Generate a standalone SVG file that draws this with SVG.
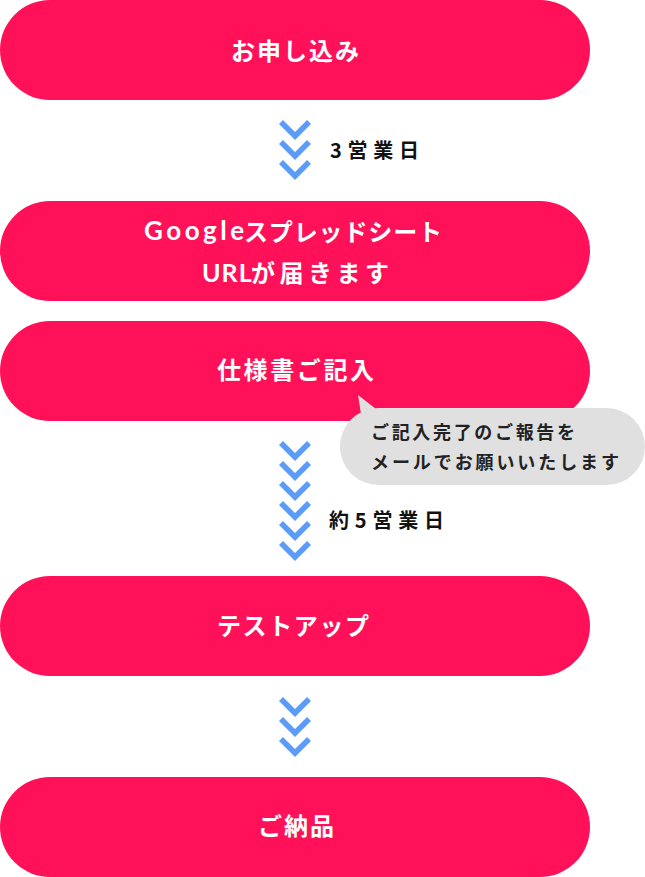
<svg xmlns="http://www.w3.org/2000/svg" xmlns:xlink="http://www.w3.org/1999/xlink" width="645" height="877" viewBox="0 0 645 877">
  <style>
    .pill { fill: #FE1158; }
    .ptxt { font-family: "Noto Sans CJK JP", "Noto Sans", sans-serif; font-weight: 700; font-size: 24px; fill: #FFFFFF; }
    .plat { font-family: Lato, "Open Sans", sans-serif; font-weight: 700; font-size: 26px; fill: #FFFFFF; }
    .lbl { font-family: "Noto Sans CJK JP", "Noto Sans", sans-serif; font-weight: 700; font-size: 20px; fill: #111111; }
    .btxt { font-family: "Noto Sans CJK JP", "Noto Sans", sans-serif; font-weight: 700; font-size: 18px; fill: #222222; }
    .chev { fill: #5B9CF8; }
    .bubble { fill: #E0E0E0; }
  </style>
  <defs>
    <path id="chev" class="chev" d="M-16,4 L-12,0 L0,12 L12,0 L16,4 L0,20 Z"/>
  </defs>
  <rect width="645" height="877" fill="#FFFFFF"/>

  <g id="node-apply">
    <rect class="pill" x="0" y="0" width="590" height="100" rx="50" ry="50"/>
    <text class="ptxt" x="231" y="60" textLength="128" lengthAdjust="spacing">お申し込み</text>
  </g>

  <g id="node-sheet">
    <rect class="pill" x="0" y="201" width="590" height="100" rx="50" ry="50"/>
    <text class="plat" x="144" y="240" letter-spacing="3.5">Google</text>
    <text class="ptxt" x="244" y="241" textLength="198" lengthAdjust="spacing">スプレッドシート</text>
    <text class="plat" x="202" y="282" style="font-size:25px" letter-spacing="1">URL</text>
    <text class="ptxt" x="251" y="282" textLength="138" lengthAdjust="spacing">が届きます</text>
  </g>

  <g id="node-spec">
    <rect class="pill" x="0" y="321" width="590" height="100" rx="50" ry="50"/>
    <text class="ptxt" x="217" y="379" textLength="157" lengthAdjust="spacing">仕様書ご記入</text>
  </g>

  <g id="node-bubble">
    <path class="bubble" d="M358,395 L376,409 L362,420 Z"/>
    <rect class="bubble" x="340" y="408" width="305" height="77" rx="38.5" ry="38.5"/>
    <text class="btxt" x="371" y="439" textLength="204" lengthAdjust="spacing">ご記入完了のご報告を</text>
    <text class="btxt" x="371" y="469" textLength="248" lengthAdjust="spacing">メールでお願いいたします</text>
  </g>

  <g id="node-test">
    <rect class="pill" x="0" y="576" width="590" height="100" rx="50" ry="50"/>
    <text class="ptxt" x="217" y="635" textLength="152" lengthAdjust="spacing">テストアップ</text>
  </g>

  <g id="node-deliver">
    <rect class="pill" x="0" y="777" width="590" height="100" rx="50" ry="50"/>
    <text class="ptxt" x="258" y="835" textLength="76" lengthAdjust="spacing">ご納品</text>
  </g>

  <g id="connectors">
    <use xlink:href="#chev" href="#chev" x="295" y="120"/>
    <use xlink:href="#chev" href="#chev" x="295" y="140"/>
    <use xlink:href="#chev" href="#chev" x="295" y="160"/>
    <text class="lbl" x="330" y="158" textLength="89" lengthAdjust="spacing">3営業日</text>

    <use xlink:href="#chev" href="#chev" x="295" y="441"/>
    <use xlink:href="#chev" href="#chev" x="295" y="461"/>
    <use xlink:href="#chev" href="#chev" x="295" y="481"/>
    <use xlink:href="#chev" href="#chev" x="295" y="501"/>
    <use xlink:href="#chev" href="#chev" x="295" y="521"/>
    <use xlink:href="#chev" href="#chev" x="295" y="541"/>
    <text class="lbl" x="329" y="528" textLength="115" lengthAdjust="spacing">約5営業日</text>

    <use xlink:href="#chev" href="#chev" x="295" y="697"/>
    <use xlink:href="#chev" href="#chev" x="295" y="717"/>
    <use xlink:href="#chev" href="#chev" x="295" y="737"/>
  </g>
</svg>
